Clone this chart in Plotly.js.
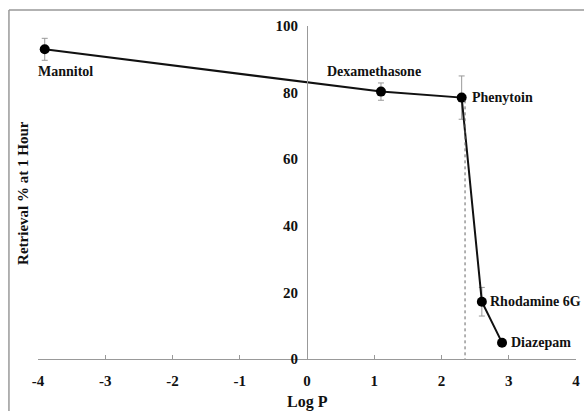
<!DOCTYPE html>
<html>
<head>
<meta charset="utf-8">
<script src="https://cdn.plot.ly/plotly-3.0.1.min.js"></script>
<style>
  html, body { margin: 0; padding: 0; background: #fff; }
  #chart { width: 584px; height: 411px; }
</style>
</head>
<body>
<div id="chart"></div>
<script>
// Retrieval after one hour versus lipophilicity (Log P)
const compounds = ['Mannitol', 'Dexamethasone', 'Phenytoin', 'Rhodamine 6G', 'Diazepam'];
const logP      = [-3.9, 1.1, 2.3, 2.6, 2.9];
const retrieval = [93, 80.3, 78.5, 17.2, 4.9];
const errBars   = [3.3, 2.6, 6.5, 4.3, 1.0];
const xTicks    = [-4, -3, -2, -1, 0, 1, 2, 3, 4];
const yTicks    = [0, 20, 40, 60, 80, 100];
const cutoffLogP = 2.35;

// label offsets (px) relative to each point
const labelPlacement = [
  {xanchor: 'left',   yanchor: 'middle', xshift: -9, yshift: -22},
  {xanchor: 'center', yanchor: 'middle', xshift: -7, yshift: 20},
  {xanchor: 'left',   yanchor: 'middle', xshift: 8,  yshift: 0},
  {xanchor: 'left',   yanchor: 'middle', xshift: 6,  yshift: 0},
  {xanchor: 'left',   yanchor: 'middle', xshift: 7,  yshift: 0}
];

const serif = 'Liberation Serif, Times New Roman, serif';
const boldFont = (size) => ({family: serif, size: size, color: '#111', weight: 'bold'});

const trace = {
  x: logP,
  y: retrieval,
  type: 'scatter',
  mode: 'lines+markers',
  line: {color: '#111', width: 2},
  marker: {color: '#000', size: 10},
  error_y: {type: 'data', array: errBars, visible: true, color: '#999', thickness: 1, width: 3},
  cliponaxis: false,
  hoverinfo: 'skip'
};

const annotations = compounds.map((name, i) => Object.assign({
  x: logP[i], y: retrieval[i], xref: 'x', yref: 'y',
  text: name, showarrow: false, font: boldFont(14)
}, labelPlacement[i]));

annotations.push({
  xref: 'paper', yref: 'paper', x: -0.029, y: 0.5,
  text: 'Retrieval % at 1 Hour', textangle: -90, showarrow: false,
  xanchor: 'center', yanchor: 'middle', font: boldFont(15)
});
annotations.push({
  xref: 'paper', yref: 'paper', x: 0.5, y: -0.13,
  text: 'Log P', showarrow: false,
  xanchor: 'center', yanchor: 'middle', font: boldFont(16)
});

const layout = {
  width: 584, height: 411,
  margin: {l: 38, r: 8, t: 26, b: 52},
  paper_bgcolor: '#fff', plot_bgcolor: '#fff',
  showlegend: false,
  xaxis: {
    range: [-4, 4], tickvals: xTicks, ticktext: xTicks.map(String),
    showgrid: false, zeroline: false,
    showline: true, linecolor: '#999', linewidth: 1,
    ticks: 'inside', ticklen: 4, tickcolor: '#999',
    tickfont: boldFont(15), ticklabelstandoff: 8
  },
  yaxis: {
    range: [0, 100], tickvals: yTicks, ticktext: yTicks.map(String),
    anchor: 'free', position: 0.5,
    showgrid: false, zeroline: false,
    showline: true, linecolor: '#999', linewidth: 1,
    ticks: '', tickfont: boldFont(15), ticklabelstandoff: 6
  },
  shapes: [
    // dotted reference line at the drop-off
    {type: 'line', xref: 'x', yref: 'y', x0: cutoffLogP, x1: cutoffLogP, y0: -2.5, y1: retrieval[2],
     line: {color: '#666', width: 1, dash: 'dot'}},
    // outer frame (top and left edges)
    {type: 'line', xref: 'paper', yref: 'paper', x0: -0.054, x1: 1.02, y0: 1.048, y1: 1.048,
     line: {color: '#999', width: 1.5}},
    {type: 'line', xref: 'paper', yref: 'paper', x0: -0.054, x1: -0.054, y0: 1.048, y1: -0.2,
     line: {color: '#999', width: 1.5}}
  ],
  annotations: annotations
};

Plotly.newPlot('chart', [trace], layout, {staticPlot: true, displayModeBar: false});
</script>
</body>
</html>
